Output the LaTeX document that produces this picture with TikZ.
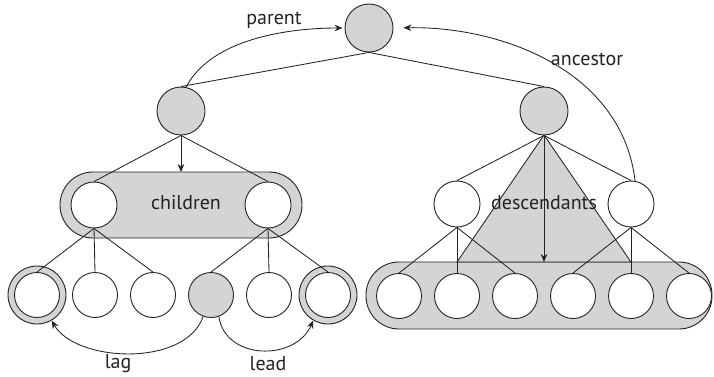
\documentclass[tikz,border=0pt]{standalone}
\usepackage{fontspec}
\setmainfont{PT Sans}
\usetikzlibrary{arrows.meta}
\definecolor{fillgray}{RGB}{212,212,212}
\definecolor{strokec}{RGB}{35,35,35}
\begin{document}
\begin{tikzpicture}[x=1pt,y=-1pt,
  nd/.style={circle, draw=strokec, line width=0.9pt, inner sep=0pt},
  gnode/.style={nd, fill=fillgray, minimum size=48pt},
  wnode/.style={nd, fill=white, minimum size=46pt},
  snode/.style={nd, fill=white, minimum size=45pt},
  sgnode/.style={nd, fill=fillgray, minimum size=45pt},
  ringnode/.style={nd, fill=fillgray, minimum size=58pt},
  grp/.style={draw=strokec, fill=fillgray, line width=0.9pt},
  edge/.style={draw=strokec, line width=0.85pt},
  arr/.style={edge, -{Stealth[length=8pt,width=6.5pt]}},
  lbl/.style={font=\fontsize{20}{24}\selectfont, text=strokec, inner sep=0pt}
]
\useasboundingbox (0,0) rectangle (714,377);

% group shapes
\draw[grp, rounded corners=33pt] (60,172) rectangle (302,238);
\draw[grp, rounded corners=33pt] (366,262) rectangle (712,329);
\coordinate (tl) at (457,262);
\coordinate (tr) at (631,262);
\coordinate (apex) at (544,135);
\draw[grp, line width=0.85pt] (apex) -- (tl) -- (tr) -- cycle;

% labels
\node[lbl] (tchildren) at (186,203) {children};
\node[lbl] (tdesc) at (544,203) {descendants};
\node[lbl] (tparent) at (274,20) {parent};
\node[lbl] (tancestor) at (587,59) {ancestor};
\node[lbl] (tlag) at (118,364) {lag};
\node[lbl] (tlead) at (268,364) {lead};

% nodes
\node[gnode] (root) at (369,28) {};
\node[gnode] (L) at (181,111) {};
\node[gnode] (R) at (544,111) {};
\node[wnode] (C1) at (94,205) {};
\node[wnode] (C2) at (268,205) {};
\node[wnode] (D1) at (457,204) {};
\node[wnode] (D2) at (631,204) {};

\node[ringnode] (G1r) at (37,295) {};
\node[snode] (G1) at (37,295) {};
\node[snode] (G2) at (95,295) {};
\node[snode] (G3) at (153,295) {};
\node[sgnode] (G4) at (211,295) {};
\node[snode] (G5) at (269,295) {};
\node[ringnode] (G6r) at (328,295) {};
\node[snode] (G6) at (328,295) {};

\foreach \i/\x in {1/399,2/457,3/515,4/573,5/631,6/689}
  \node[snode] (E\i) at (\x,296) {};

\coordinate (cb) at (181,172);
\coordinate (db) at (544,262);

% tree edges
\draw[edge] (root.south) -- (L.north);
\draw[edge] (root.south) -- (R.north);
\draw[edge] (L.south) -- (C1.north);
\draw[edge] (L.south) -- (C2.north);
\draw[edge] (R.south) -- (D1.north);
\draw[edge] (R.south) -- (D2.north);
\draw[edge] (C1.south) -- (G1.north);
\draw[edge] (C1.south) -- (G2.north);
\draw[edge] (C1.south) -- (G3.north);
\draw[edge] (C2.south) -- (G4.north);
\draw[edge] (C2.south) -- (G5.north);
\draw[edge] (C2.south) -- (G6.north);
\draw[edge] (D1.south) -- (E1.north);
\draw[edge] (D1.south) -- (E2.north);
\draw[edge] (D1.south) -- (E3.north);
\draw[edge] (D2.south) -- (E4.north);
\draw[edge] (D2.south) -- (E5.north);
\draw[edge] (D2.south) -- (E6.north);

% arrows
\draw[arr] (L.south) -- (cb);
\draw[arr] (R.south) -- (db);
\draw[arr, shorten >=2pt] (L.78) .. controls (212,38) and (290,28) .. (root.west);
\draw[arr, shorten >=10pt] (D2.80) .. controls (622,70) and (500,26) .. (root.east);
\draw[arr] (G4.250) .. controls (185,368) and (75,362) .. (G1r.300);
\draw[arr] (G4.290) .. controls (225,360) and (295,362) .. (G6r.240);
\end{tikzpicture}
\end{document}
